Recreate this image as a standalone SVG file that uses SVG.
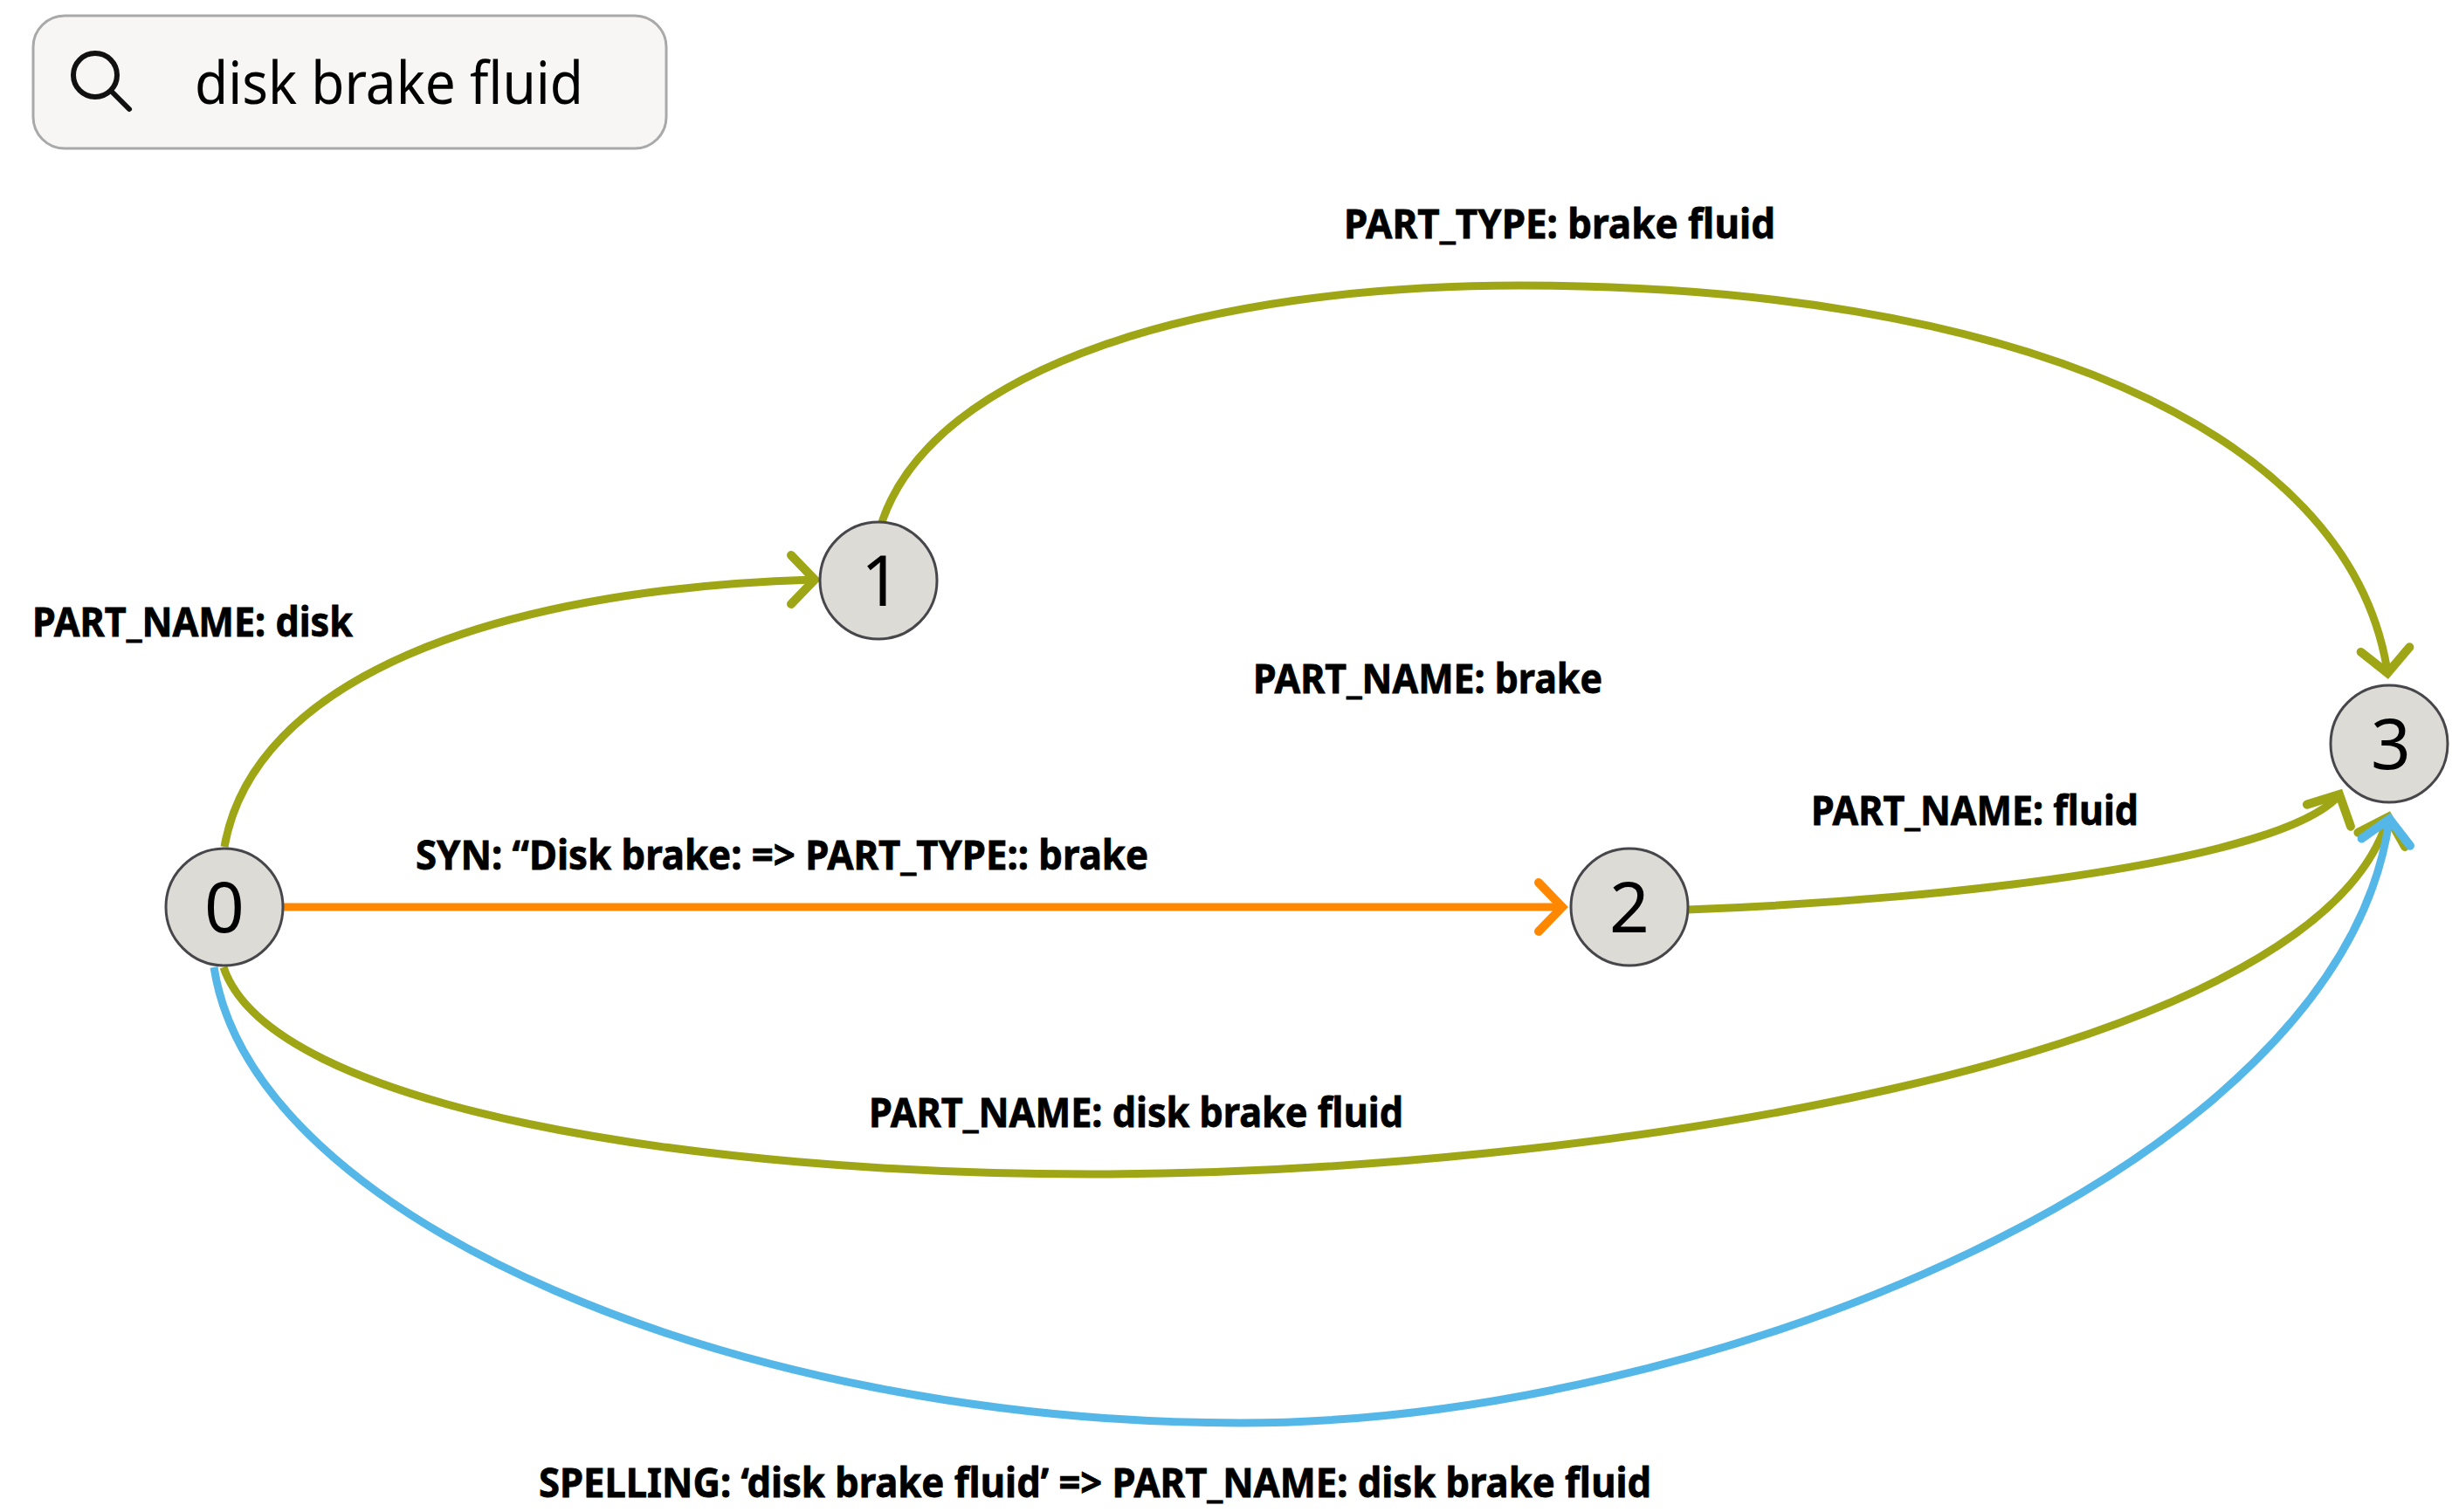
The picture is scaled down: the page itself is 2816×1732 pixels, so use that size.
<svg xmlns="http://www.w3.org/2000/svg" width="2816" height="1732" viewBox="0 0 2816 1732">
<style>
.n{fill:#dcdbd6;stroke:#47474b;stroke-width:3}
.d{font:400 80px "Noto Sans",sans-serif;fill:#000;text-anchor:middle}
.l{font:700 46px "Noto Sans",sans-serif;fill:#000;stroke:#000;stroke-width:.8}
.e{fill:none;stroke-width:9}
.o{stroke:#9ea616;marker-end:url(#ao)}
.b{stroke:#55b7e8;marker-end:url(#ab)}
.r{stroke:#ff8800;marker-end:url(#ar)}
.h{fill:none;stroke-width:10;stroke-linecap:round;stroke-linejoin:miter}
</style>
<defs>
<marker id="ao" markerUnits="userSpaceOnUse" markerWidth="60" markerHeight="80" refX="35" refY="35" orient="auto"><path class="h" d="M8,7L35,35L8,63" stroke="#9ea616"/></marker>
<marker id="ab" markerUnits="userSpaceOnUse" markerWidth="60" markerHeight="80" refX="35" refY="35" orient="auto"><path class="h" d="M8,7L35,35L8,63" stroke="#55b7e8"/></marker>
<marker id="ar" markerUnits="userSpaceOnUse" markerWidth="60" markerHeight="80" refX="35" refY="35" orient="auto"><path class="h" d="M8,7L35,35L8,63" stroke="#ff8800"/></marker>
</defs>
<rect width="2816" height="1732" fill="#fff"/>
<g id="search">
<rect x="38" y="18" width="725" height="152" rx="36" fill="#f7f6f4" stroke="#a9a9a9" stroke-width="3"/>
<circle cx="109" cy="86" r="25" fill="none" stroke="#111" stroke-width="6"/>
<path d="M128,105L148,125" stroke="#111" stroke-width="6" stroke-linecap="round"/>
<text x="223" y="119" textLength="445" lengthAdjust="spacingAndGlyphs" style="font:400 67px 'Noto Sans',sans-serif">disk brake fluid</text>
</g>
<g id="connectors">
<path class="e o" d="M257,970C290,780 560,675 931,664L933,664"/>
<path class="e o" d="M1010,598C1070,420 1380,327 1740,327C2300,327 2690,490 2734,769L2734.2,771"/>
<path class="e r" d="M324,1039H1789"/>
<path class="e o" d="M1933,1042C2250,1030 2610,985 2678,912L2679,910"/>
<path class="e o" d="M256,1108C310,1270 800,1345 1250,1345C1800,1345 2650,1220 2734.4,938L2735,936"/>
<path class="e b" d="M245,1108C290,1400 850,1630 1420,1630C1950,1630 2680,1340 2736,940L2736.3,938"/>
</g>
<g id="node0"><circle class="n" cx="257" cy="1039" r="67"/><text class="d" x="257" y="1068">0</text></g>
<g id="node1"><circle class="n" cx="1006" cy="665" r="67"/><text class="d" x="1009" y="694">1</text></g>
<g id="node2"><circle class="n" cx="1866" cy="1039" r="67"/><text class="d" x="1866" y="1068">2</text></g>
<g id="node3"><circle class="n" cx="2736" cy="852" r="67"/><text class="d" x="2738" y="881">3</text></g>
<g id="labels">
<text class="l" x="1539" y="273" textLength="494" lengthAdjust="spacingAndGlyphs">PART_TYPE: brake fluid</text>
<text class="l" x="37" y="729" textLength="367" lengthAdjust="spacingAndGlyphs">PART_NAME: disk</text>
<text class="l" x="1435" y="794" textLength="400" lengthAdjust="spacingAndGlyphs">PART_NAME: brake</text>
<text class="l" x="2074" y="945" textLength="375" lengthAdjust="spacingAndGlyphs">PART_NAME: fluid</text>
<text class="l" x="476" y="996" textLength="839" lengthAdjust="spacingAndGlyphs">SYN: “Disk brake: =&gt; PART_TYPE:: brake</text>
<text class="l" x="995" y="1291" textLength="612" lengthAdjust="spacingAndGlyphs">PART_NAME: disk brake fluid</text>
<text class="l" x="617" y="1715" textLength="1274" lengthAdjust="spacingAndGlyphs">SPELLING: ‘disk brake fluid’ =&gt; PART_NAME: disk brake fluid</text>
</g>
</svg>
